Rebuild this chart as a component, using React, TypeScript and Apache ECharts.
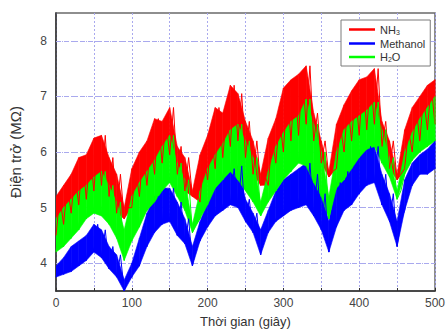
import React, { useEffect, useRef } from "react";
import * as echarts from "echarts";

// time samples (s)
const times = [
  0, 10, 20, 30, 40, 50, 60, 70, 80, 90,
  100, 110, 120, 130, 140, 150, 160, 170, 180, 190,
  200, 210, 220, 230, 240, 250, 260, 270, 280, 290,
  300, 310, 320, 330, 340, 350, 360, 370, 380, 390,
  400, 410, 420, 430, 440, 450, 460, 470, 480, 490, 500,
];

// NH3 envelope (MΩ)
const nh3Top = [
  5.2, 5.4, 5.6, 5.9, 5.95, 6.25, 6.3, 5.9, 5.6, 5.0,
  5.7, 6.0, 6.2, 6.6, 6.55, 6.8, 6.1, 5.9, 5.3, 5.95,
  6.3, 6.8, 6.7, 7.2, 7.05, 6.55, 6.2, 5.6, 6.25, 6.6,
  7.15, 7.3, 7.4, 7.55, 6.7, 6.2, 5.65, 6.5, 6.85, 7.1,
  7.3, 7.35, 7.5, 6.55, 6.2, 5.6, 6.4, 6.8, 7.0, 7.2, 7.3,
];
const nh3Bottom = [
  4.5, 4.7, 4.9, 5.05, 5.15, 5.3, 5.4, 5.2, 4.9, 4.8,
  5.0, 5.2, 5.4, 5.6, 5.8, 5.95, 5.6, 5.3, 5.2, 5.1,
  5.5, 5.7, 5.9, 6.1, 6.2, 5.9, 5.6, 5.4, 5.4, 5.8,
  6.0, 6.2, 6.3, 6.5, 6.2, 5.8, 5.55, 5.7, 6.0, 6.2,
  6.3, 6.4, 6.5, 6.1, 5.7, 5.5, 5.7, 6.0, 6.2, 6.4, 6.5,
];

// Methanol envelope (MΩ)
const methTop = [
  3.95, 4.1, 4.3, 4.4, 4.5, 4.7, 4.6, 4.3, 4.15, 3.7,
  4.0, 4.45, 4.9, 5.2, 5.35, 5.35, 5.1, 4.8, 4.3, 4.75,
  5.1, 5.35, 5.55, 5.7, 5.75, 5.15, 4.9, 4.6, 4.95, 5.3,
  5.5, 5.6, 5.7, 5.8, 5.6, 5.25, 4.75, 5.45, 5.65, 5.75,
  5.9, 6.1, 6.1, 5.6, 5.25, 4.75, 5.5, 5.8, 5.95, 6.05, 6.2,
];
const methBottom = [
  3.75, 3.8, 3.85, 3.95, 4.05, 4.2, 4.1, 3.9, 3.75, 3.5,
  3.75, 3.95, 4.3, 4.55, 4.7, 4.75, 4.5, 4.35, 3.95, 4.4,
  4.65, 4.85, 4.95, 5.05, 5.0, 4.75, 4.55, 4.15, 4.55, 4.75,
  4.85, 4.95, 5.0, 5.05, 4.85, 4.6, 4.2, 4.65, 4.95, 5.05,
  5.25, 5.4, 5.45, 5.05, 4.75, 4.3, 4.95, 5.4, 5.6, 5.6, 5.7,
];

// H2O envelope (MΩ)
const h2oTop = [
  4.8, 5.0, 5.15, 5.3, 5.4, 5.55, 5.65, 5.4, 5.1, 4.6,
  5.2, 5.45, 5.65, 5.85, 6.1, 6.3, 5.8, 5.5, 4.7, 5.3,
  5.7, 5.95, 6.15, 6.4, 6.5, 6.2, 5.9, 5.1, 5.65, 6.1,
  6.35, 6.55, 6.65, 6.95, 6.5, 6.0, 5.2, 6.0, 6.4, 6.55,
  6.65, 6.75, 6.9, 6.4, 5.9, 5.3, 6.0, 6.35, 6.6, 6.8, 7.0,
];
const h2oBottom = [
  4.2, 4.3, 4.45, 4.6, 4.8, 4.9, 4.85, 4.7, 4.45, 4.05,
  4.4, 4.65, 4.95, 5.1, 5.3, 5.45, 5.2, 4.95, 4.55, 4.8,
  5.05, 5.35, 5.5, 5.65, 5.5, 5.3, 5.1, 4.85, 5.1, 5.3,
  5.5, 5.65, 5.8, 5.75, 5.45, 5.2, 4.8, 5.35, 5.5, 5.7,
  5.9, 6.05, 6.1, 5.8, 5.55, 5.15, 5.6, 5.85, 6.0, 6.1, 6.2,
];

const seriesNames = ["NH3", "Methanol", "H2O"];
const seriesColors = ["#ff0000", "#0000ff", "#00ff00"];
const legendRich: Record<string, string> = {
  NH3: "{t|NH}{s|3}",
  Methanol: "{t|Methanol}",
  H2O: "{t|H}{s|2}{t|O}",
};
const yIntegerTicks = [4, 5, 6, 7, 8];
const xLabelEvery = 100;
const halfStep = 5;

function zigzag(top: number[], bottom: number[]) {
  const out: number[][] = [];
  times.forEach((t, i) => {
    out.push([t, bottom[i]]);
    out.push([i < times.length - 1 ? t + halfStep : t, top[i]]);
  });
  return out;
}

function bandData(top: number[], bottom: number[]) {
  const out: number[][] = [];
  for (let i = 0; i < times.length - 1; i++) {
    out.push([times[i], top[i], bottom[i], times[i + 1], top[i + 1], bottom[i + 1]]);
  }
  return out;
}

function group(key: string, color: string, top: number[], bottom: number[], withMark: boolean) {
  const line: any = {
    type: "line",
    name: key,
    data: zigzag(top, bottom),
    symbol: "none",
    lineStyle: { color, width: 1 },
    itemStyle: { color },
    z: 2,
  };
  if (withMark) {
    line.markLine = {
      silent: true,
      symbol: "none",
      z: 1,
      label: { show: false },
      lineStyle: { color: "#a9a9ee", type: [5, 3], width: 1 },
      emphasis: { disabled: true },
      data: yIntegerTicks.map((v) => ({ yAxis: v })),
    };
  }
  return [
    {
      type: "custom",
      name: key + "-band",
      silent: true,
      clip: true,
      z: 2,
      data: bandData(top, bottom),
      encode: { x: [0, 3], y: [1, 2, 4, 5] },
      renderItem: (params: any, api: any) => {
        const p = [
          api.coord([api.value(0), api.value(1)]),
          api.coord([api.value(3), api.value(4)]),
          api.coord([api.value(3), api.value(5)]),
          api.coord([api.value(0), api.value(2)]),
        ];
        return {
          type: "polygon",
          shape: { points: p },
          style: { fill: color, stroke: color, lineWidth: 0.6 },
        };
      },
    },
    line,
  ];
}

export default function App() {
  const ref = useRef<HTMLDivElement>(null);
  useEffect(() => {
    if (!ref.current) return;
    const chart = echarts.init(ref.current, null, { renderer: "svg" });
    const font = "'Liberation Sans', Arial, sans-serif";
    chart.setOption({
      animation: false,
      backgroundColor: "#ffffff",
      grid: {
        left: 54,
        right: 10,
        top: 13,
        bottom: 38,
        show: true,
        borderColor: "#6a6a6a",
        borderWidth: 1.5,
      },
      legend: {
        data: seriesNames,
        orient: "vertical",
        left: 341,
        top: 20,
        padding: [4, 5, 3, 8],
        itemWidth: 26,
        itemHeight: 2.5,
        itemGap: 2.5,
        icon: "rect",
        backgroundColor: "#ffffff",
        borderColor: "#7a7a7a",
        borderWidth: 1,
        formatter: (name: string) => legendRich[name],
        textStyle: {
          color: "#333",
          fontFamily: font,
          rich: {
            t: { fontSize: 11, fontFamily: font, color: "#333", lineHeight: 12 },
            s: { fontSize: 7, fontFamily: font, color: "#333", lineHeight: 12, verticalAlign: "bottom", padding: [4, 0, 0, 0] },
          },
        },
      },
      xAxis: {
        type: "value",
        min: 0,
        max: 500,
        interval: 50,
        name: "Thời gian (giây)",
        nameLocation: "middle",
        nameGap: 24,
        nameTextStyle: { fontFamily: font, fontSize: 13, color: "#333" },
        axisLine: { show: true, lineStyle: { color: "#333", width: 1.5 } },
        axisTick: { show: true, inside: true, length: 3, lineStyle: { color: "#333" } },
        axisLabel: {
          fontFamily: font,
          fontSize: 12,
          color: "#444",
          margin: 6,
          formatter: (v: number) => (v % xLabelEvery === 0 ? String(v) : ""),
        },
        splitLine: { show: true, lineStyle: { color: "#a9a9ee", type: [2, 2], width: 1 } },
      },
      yAxis: {
        type: "value",
        min: 3.5,
        max: 8.5,
        interval: 0.5,
        name: "Điện trở (MΩ)",
        nameLocation: "middle",
        nameGap: 33,
        nameRotate: 90,
        nameTextStyle: { fontFamily: font, fontSize: 15, color: "#333" },
        axisLine: { show: true, lineStyle: { color: "#333", width: 1.5 } },
        axisTick: { show: true, inside: true, length: 5, customValues: yIntegerTicks, lineStyle: { color: "#333" } },
        axisLabel: {
          fontFamily: font,
          fontSize: 12,
          color: "#444",
          margin: 9,
          customValues: yIntegerTicks,
          formatter: (v: number) => String(v),
        },
        splitLine: { show: true, lineStyle: { color: "#a9a9ee", type: [1, 2], width: 1 } },
      },
      series: [
        ...group(seriesNames[0], seriesColors[0], nh3Top, nh3Bottom, true),
        ...group(seriesNames[1], seriesColors[1], methTop, methBottom, false),
        ...group(seriesNames[2], seriesColors[2], h2oTop, h2oBottom, false),
      ],
    });
    return () => chart.dispose();
  }, []);
  return (
    <div
      ref={ref}
      style={{ position: "fixed", left: 0, top: 0, width: 448, height: 333, background: "#fff" }}
    />
  );
}
